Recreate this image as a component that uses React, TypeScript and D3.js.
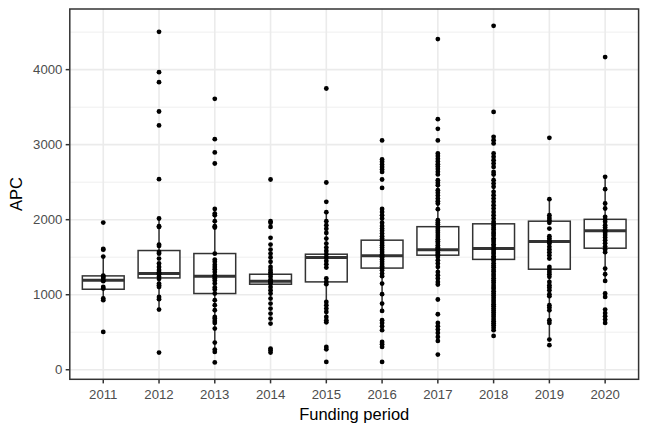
import React from "react";
import * as d3 from "d3";

const years = ["2011", "2012", "2013", "2014", "2015", "2016", "2017", "2018", "2019", "2020"];

const q1 = [1073, 1224, 1016, 1140, 1171, 1355, 1527, 1471, 1340, 1620];
const medians = [1193, 1282, 1247, 1180, 1496, 1518, 1600, 1616, 1709, 1853];
const q3 = [1251, 1589, 1549, 1273, 1540, 1727, 1907, 1945, 1980, 2005];
const whiskerLow = [927, 802, 238, 949, 633, 793, 1136, 780, 402, 1184];
const whiskerHigh = [1509, 2016, 2144, 1438, 2100, 2144, 2460, 2637, 2273, 2571];

const apc2011 = [1962, 1610, 1600, 1509, 1255, 1240, 1224, 1193, 1180, 1104, 1083, 950, 927, 504];
const apc2012 = [4504, 3966, 3833, 3442, 3256, 2540, 2016, 1913, 1904, 1668, 1651, 1571, 1549, 1482, 1416, 1370, 1330, 1300, 1282, 1270, 1240, 1210, 1149, 1127, 1104, 971, 940, 802, 229];
const apc2013 = [3611, 3073, 2896, 2749, 2144, 2082, 2060, 1980, 1913, 1896, 1549, 1469, 1440, 1400, 1370, 1340, 1304, 1260, 1247, 1220, 1190, 1150, 1096, 1069, 1016, 927, 860, 793, 704, 682, 651, 624, 549, 362, 269, 238, 97];
const apc2014 = [2536, 1980, 1958, 1904, 1758, 1668, 1602, 1549, 1496, 1438, 1371, 1330, 1300, 1273, 1240, 1200, 1180, 1170, 1150, 1104, 1060, 1016, 949, 882, 816, 749, 682, 616, 282, 260, 229];
const apc2015 = [3749, 2496, 2238, 2100, 1980, 1927, 1878, 1824, 1749, 1682, 1629, 1584, 1540, 1496, 1451, 1407, 1362, 1216, 1171, 1140, 904, 860, 816, 771, 704, 660, 633, 304, 273, 104];
const apc2016 = [3056, 2803, 2771, 2736, 2704, 2669, 2637, 2536, 2424, 2144, 2104, 2060, 2016, 1960, 1916, 1882, 1851, 1816, 1780, 1750, 1720, 1690, 1660, 1630, 1600, 1570, 1540, 1518, 1500, 1470, 1440, 1410, 1380, 1355, 1327, 1282, 1247, 1149, 1007, 882, 784, 660, 624, 580, 527, 371, 340, 304, 104];
const apc2017 = [4407, 3340, 3211, 3056, 2882, 2849, 2813, 2776, 2740, 2709, 2676, 2640, 2604, 2527, 2491, 2460, 2393, 2358, 2322, 2282, 2247, 2216, 2140, 1993, 1962, 1938, 1907, 1880, 1852, 1826, 1795, 1768, 1741, 1713, 1688, 1660, 1634, 1612, 1600, 1585, 1562, 1544, 1527, 1504, 1460, 1416, 1371, 1304, 1260, 1216, 1171, 1136, 936, 740, 624, 580, 536, 491, 438, 384, 202];
const apc2018 = [4584, 3436, 3104, 3060, 3016, 2882, 2838, 2793, 2749, 2704, 2637, 2603, 2527, 2482, 2438, 2371, 2327, 2282, 2238, 2193, 2149, 2104, 2060, 2016, 1971, 1945, 1921, 1893, 1868, 1836, 1812, 1785, 1752, 1731, 1704, 1672, 1648, 1616, 1597, 1571, 1546, 1512, 1490, 1471, 1452, 1418, 1389, 1365, 1332, 1308, 1276, 1251, 1219, 1188, 1163, 1131, 1102, 1078, 1046, 1017, 988, 961, 930, 903, 874, 846, 815, 790, 762, 733, 706, 675, 648, 619, 592, 560, 527, 451];
const apc2019 = [3091, 2273, 2060, 2024, 1993, 1958, 1882, 1780, 1749, 1718, 1709, 1682, 1638, 1602, 1567, 1527, 1482, 1371, 1336, 1304, 1273, 1238, 1171, 1127, 1096, 1060, 1007, 980, 860, 829, 793, 660, 624, 402, 327];
const apc2020 = [4167, 2571, 2407, 2216, 2149, 2038, 2002, 1971, 1927, 1896, 1860, 1853, 1827, 1796, 1764, 1727, 1687, 1642, 1604, 1567, 1349, 1273, 1184, 1016, 971, 802, 756, 713, 669, 624];

const pointsByYear = [apc2011, apc2012, apc2013, apc2014, apc2015, apc2016, apc2017, apc2018, apc2019, apc2020];

const yMajor = [0, 1000, 2000, 3000, 4000];
const yMinor = [500, 1500, 2500, 3500, 4500];

const W = 648;
const H = 432;
const panel = { left: 69.8, right: 638.6, top: 9, bottom: 379.3 };
const FONT = "'Liberation Sans', Arial, Helvetica, sans-serif";

export default function App() {
  const all = pointsByYear.flat();
  const lo = d3.min(all) as number;
  const hi = d3.max(all) as number;
  const pad = (hi - lo) * 0.05;
  const y = d3.scaleLinear().domain([lo - pad, hi + pad]).range([panel.bottom, panel.top]);
  const x = d3.scalePoint<string>().domain(years).range([panel.left, panel.right]).padding(0.6);
  const step = x.step();
  const boxW = step * 0.75;
  const tickLen = 4.1;
  const tickCol = "#333333";
  const textCol = "#4D4D4D";
  const lw = 1.5;

  return (
    <svg width={W} height={H} style={{ position: "absolute", left: 0, top: 0, background: "#fff" }} fontFamily={FONT}>
      <rect x={0} y={0} width={W} height={H} fill="#fff" />
      {yMinor.map((v) => (
        <line key={"mn" + v} x1={panel.left} x2={panel.right} y1={y(v)} y2={y(v)} stroke="#EBEBEB" strokeWidth={0.8} />
      ))}
      {yMajor.map((v) => (
        <line key={"mj" + v} x1={panel.left} x2={panel.right} y1={y(v)} y2={y(v)} stroke="#EBEBEB" strokeWidth={1.6} />
      ))}
      {years.map((yr) => (
        <line key={"gx" + yr} x1={x(yr)} x2={x(yr)} y1={panel.top} y2={panel.bottom} stroke="#EBEBEB" strokeWidth={1.6} />
      ))}
      {years.map((yr, i) => {
        const cx = x(yr) as number;
        return (
          <g key={"box" + yr}>
            <line x1={cx} x2={cx} y1={y(q3[i])} y2={y(whiskerHigh[i])} stroke={tickCol} strokeWidth={lw} />
            <line x1={cx} x2={cx} y1={y(q1[i])} y2={y(whiskerLow[i])} stroke={tickCol} strokeWidth={lw} />
            <rect x={cx - boxW / 2} y={y(q3[i])} width={boxW} height={y(q1[i]) - y(q3[i])} fill="#fff" stroke={tickCol} strokeWidth={lw} />
            <line x1={cx - boxW / 2} x2={cx + boxW / 2} y1={y(medians[i])} y2={y(medians[i])} stroke={tickCol} strokeWidth={lw * 2} />
          </g>
        );
      })}
      {years.map((yr, i) => (
        <g key={"pts" + yr}>
          {pointsByYear[i].map((v, j) => (
            <circle key={j} cx={x(yr)} cy={y(v)} r={2.4} fill="#000" />
          ))}
        </g>
      ))}
      <rect x={panel.left} y={panel.top} width={panel.right - panel.left} height={panel.bottom - panel.top} fill="none" stroke="#333333" strokeWidth={lw} />
      {yMajor.map((v) => (
        <g key={"yt" + v}>
          <line x1={panel.left - tickLen} x2={panel.left} y1={y(v)} y2={y(v)} stroke={tickCol} strokeWidth={lw} />
          <text x={panel.left - tickLen - 3.3} y={y(v)} dy="0.36em" textAnchor="end" fontSize={13.2} fill={textCol}>
            {v}
          </text>
        </g>
      ))}
      {years.map((yr) => (
        <g key={"xt" + yr}>
          <line x1={x(yr)} x2={x(yr)} y1={panel.bottom} y2={panel.bottom + tickLen} stroke={tickCol} strokeWidth={lw} />
          <text x={x(yr)} y={398.5} textAnchor="middle" fontSize={13.2} fill={textCol}>
            {yr}
          </text>
        </g>
      ))}
      <text x={(panel.left + panel.right) / 2} y={420} textAnchor="middle" fontSize={16.5} fill="#000">
        Funding period
      </text>
      <text transform={`translate(21.5, ${(panel.top + panel.bottom) / 2}) rotate(-90)`} textAnchor="middle" fontSize={16.5} fill="#000">
        APC
      </text>
    </svg>
  );
}
